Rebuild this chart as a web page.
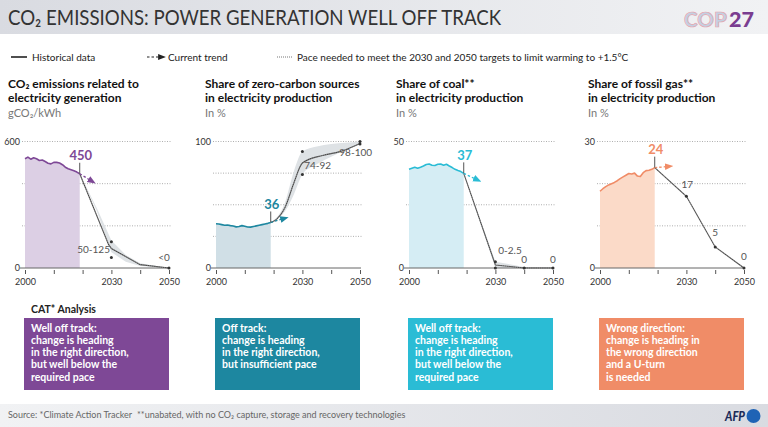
<!DOCTYPE html>
<html>
<head>
<meta charset="utf-8">
<script src="https://cdn.jsdelivr.net/npm/d3@7"></script>
<style>
  body { margin: 0; background: #fff; }
  text { font-family: Lato, "Noto Sans", sans-serif; }
</style>
</head>
<body>
<script>
const { select, scaleLinear, axisBottom, line, area, curveMonotoneX, curveLinear } = d3;

// historical years (2000-2019)
const histYears = [2000, 2001, 2002, 2003, 2004, 2005, 2006, 2007, 2008, 2009,
                   2010, 2011, 2012, 2013, 2014, 2015, 2016, 2017, 2018, 2019];

// historical series
const emissionsHist = [518, 526, 516, 523, 518, 510, 512, 505, 497, 494,
                       501, 501, 498, 490, 478, 471, 466, 461, 455, 447];
const zeroCarbonHist = [35.0, 34.8, 34.3, 33.8, 34.0, 33.5, 33.2, 32.5, 32.8, 33.5,
                        33.0, 32.4, 32.3, 32.8, 33.3, 33.8, 34.3, 34.8, 35.3, 36.0];
const coalHist = [39.0, 39.4, 39.8, 39.4, 39.8, 40.3, 40.9, 41.1, 40.6, 40.5,
                  41.0, 41.1, 40.6, 41.0, 40.3, 39.7, 39.0, 38.5, 38.1, 37.4];
const gasHist = [18.2, 18.8, 19.3, 19.7, 20.0, 20.3, 20.7, 21.2, 21.6, 22.0,
                 22.4, 22.3, 22.5, 21.8, 21.7, 22.6, 23.1, 23.2, 23.4, 23.8];

// 1.5C pathways [year, value]
const emissionsPath = [[2019, 447], [2029, 112], [2030, 92], [2040, 16], [2050, 0]];
const zeroCarbonPath = [[2019, 36], [2021, 38.5], [2024, 48], [2027, 67], [2030, 83], [2037, 89], [2043, 92], [2050, 98.5]];
const coalPath = [[2019, 37.4], [2030, 1.2], [2040, 0], [2050, 0]];
const gasPath = [[2019, 23.8], [2030, 17], [2040, 5], [2050, 0]];

// pathway ranges [year, low, high]
const emissionsBand = [[2019, 447, 447], [2025, 268, 282], [2030, 75, 130], [2035, 30, 62], [2040, 10, 22], [2050, 0, 0]];
const zeroCarbonBand = [[2019, 36, 36], [2024, 45, 52], [2027, 58, 76], [2030, 74, 92], [2035, 82, 96], [2040, 88, 98], [2045, 93, 99], [2050, 98, 100]];
const coalBand = [[2019, 37.4, 37.4], [2030, 0, 2.5], [2040, 0, 0.4], [2050, 0, 0]];
const gasBand = [];

// marked points [year, value]
const emissionsDots = [[2030, 125], [2030, 50], [2050, 0]];
const zeroCarbonDots = [[2030, 92], [2030, 74], [2050, 100], [2050, 98]];
const coalDots = [[2030, 2.5], [2030, 0], [2040, 0], [2050, 0]];
const gasDots = [[2030, 17], [2040, 5], [2050, 0]];

// current trend arrow end [year, value]
const emissionsTrend = [2023.3, 411];
const zeroCarbonTrend = [2023.8, 39.2];
const coalTrend = [2023.8, 34.8];
const gasTrend = [2024, 24.1];

// labels [year, value, text, anchor]
const emissionsLabels = [[2029.5, 72, "50-125", "end"], [2050.3, 33, "<0", "end"]];
const zeroCarbonLabels = [[2030.6, 78, "74-92", "start"], [2048.5, 88.5, "98-100", "middle"]];
const coalLabels = [[2031, 5.4, "0-2.5", "start"], [2040, 1.8, "0", "middle"], [2050, 1.8, "0", "middle"]];
const gasLabels = [[2030.3, 19, "17", "middle"], [2040, 7.7, "5", "middle"], [2050, 1.9, "0", "middle"]];

const endLabels = ["450", "36", "37", "24"];
const yMaxes = [600, 100, 50, 30];
const yGrids = [[200, 400, 600], [25, 50, 75, 100], [25, 50], [10, 20, 30]];

const titles = [
  ["CO₂ emissions related to", "electricity generation"],
  ["Share of zero-carbon sources", "in electricity production"],
  ["Share of coal**", "in electricity production"],
  ["Share of fossil gas**", "in electricity production"]
];
const units = ["gCO₂/kWh", "In %", "In %", "In %"];

const boxTexts = [
  ["Well off track:", "change is heading", "in the right direction,", "but well below the", "required pace"],
  ["Off track:", "change is heading", "in the right direction,", "but insufficient pace"],
  ["Well off track:", "change is heading", "in the right direction,", "but well below the", "required pace"],
  ["Wrong direction:", "change is heading in", "the wrong direction", "and a U-turn", "is needed"]
];

const colors = ["#7e4896", "#1d87a0", "#2abcd5", "#f08c67"];
const lightColors = ["#dccfe4", "#d0dfe6", "#d5edf4", "#fbdac8"];

const panels = [
  { hist: emissionsHist, path: emissionsPath, band: emissionsBand, dots: emissionsDots, trend: emissionsTrend, labels: emissionsLabels, curve: curveLinear },
  { hist: zeroCarbonHist, path: zeroCarbonPath, band: zeroCarbonBand, dots: zeroCarbonDots, trend: zeroCarbonTrend, labels: zeroCarbonLabels, curve: curveMonotoneX },
  { hist: coalHist, path: coalPath, band: coalBand, dots: coalDots, trend: coalTrend, labels: coalLabels, curve: curveLinear },
  { hist: gasHist, path: gasPath, band: gasBand, dots: gasDots, trend: gasTrend, labels: gasLabels, curve: curveLinear }
];

const width = 768, height = 427;
const svg = select("body").append("svg")
  .attr("width", width).attr("height", height)
  .attr("viewBox", [0, 0, width, height]);

const defs = svg.append("defs");
const hg = defs.append("linearGradient").attr("id", "hg");
hg.append("stop").attr("offset", "0").attr("stop-color", "#d9dbe1");
hg.append("stop").attr("offset", "1").attr("stop-color", "#f1f2f4");
const fg = defs.append("linearGradient").attr("id", "fg");
fg.append("stop").attr("offset", "0").attr("stop-color", "#f1f2f4");
fg.append("stop").attr("offset", "1").attr("stop-color", "#d9dbe1");

function arrowMarker(id, color) {
  defs.append("marker")
    .attr("id", id)
    .attr("viewBox", "0 0 10 10")
    .attr("refX", 5).attr("refY", 5)
    .attr("markerWidth", 6.5).attr("markerHeight", 6.5)
    .attr("orient", "auto")
    .append("path")
    .attr("d", "M0,1 L10,5 L0,9 Z")
    .attr("fill", color);
}

// header
svg.append("rect").attr("width", width).attr("height", 34).attr("fill", "url(#hg)");
svg.append("text")
  .attr("x", 8).attr("y", 25)
  .attr("font-size", 21).attr("fill", "#333")
  .attr("textLength", 493).attr("lengthAdjust", "spacingAndGlyphs")
  .text("CO₂ EMISSIONS: POWER GENERATION WELL OFF TRACK");

svg.append("text").attr("x", 684).attr("y", 27)
  .attr("font-size", 21).attr("font-weight", 900)
  .attr("fill", "#c3d0e2").attr("stroke", "#e8a4ac").attr("stroke-width", 0.7)
  .attr("textLength", 43).attr("lengthAdjust", "spacingAndGlyphs")
  .text("COP");
svg.append("text").attr("x", 729).attr("y", 27)
  .attr("font-size", 21).attr("font-weight", 900)
  .attr("fill", "#7a3d90")
  .attr("textLength", 25).attr("lengthAdjust", "spacingAndGlyphs")
  .text("27");

// legend
arrowMarker("arrow-legend", "#222");
const leg = svg.append("g").attr("font-size", 10).attr("fill", "#222");
leg.append("line").attr("x1", 11).attr("x2", 27).attr("y1", 57).attr("y2", 57)
  .attr("stroke", "#222").attr("stroke-width", 1.6);
leg.append("text").attr("x", 32).attr("y", 60.5).text("Historical data");
leg.append("line").attr("x1", 147).attr("x2", 162).attr("y1", 57).attr("y2", 57)
  .attr("stroke", "#222").attr("stroke-width", 1.2).attr("stroke-dasharray", "2.5,2")
  .attr("marker-end", "url(#arrow-legend)");
leg.append("text").attr("x", 168).attr("y", 60.5).text("Current trend");
leg.append("line").attr("x1", 277).attr("x2", 293).attr("y1", 57).attr("y2", 57)
  .attr("stroke", "#777").attr("stroke-width", 1).attr("stroke-dasharray", "1,1");
leg.append("text").attr("x", 297).attr("y", 60.5)
  .text("Pace needed to meet the 2030 and 2050 targets to limit warming to +1.5°C");

// panels
const panelX = [25, 216, 409, 600];
const titleX = [8, 205, 396, 588];
const plotW = 144;
const yTop = 141.5, yBot = 268;

panels.forEach((p, i) => {
  const x0 = panelX[i];
  const color = colors[i];
  const g = svg.append("g");

  // titles
  g.append("g").selectAll("text").data(titles[i]).join("text")
    .attr("x", titleX[i]).attr("y", (d, k) => 88 + k * 14)
    .attr("font-size", 12).attr("font-weight", 700).attr("fill", "#111")
    .text(d => d);
  g.append("text").attr("x", titleX[i]).attr("y", 117)
    .attr("font-size", 11).attr("fill", "#777")
    .text(units[i]);

  const x = scaleLinear().domain([2000, 2050]).range([x0, x0 + plotW]);
  const y = scaleLinear().domain([0, yMaxes[i]]).range([yBot, yTop]);

  // grid
  g.append("g").selectAll("line").data(yGrids[i]).join("line")
    .attr("x1", x0 - 3).attr("x2", x0 + plotW + 2)
    .attr("y1", d => y(d)).attr("y2", d => y(d))
    .attr("stroke", "#9a9a9a").attr("stroke-width", 0.8).attr("stroke-dasharray", "1,1.5");

  // y labels
  g.append("g").selectAll("text").data([0, yMaxes[i]]).join("text")
    .attr("x", x0 - 5).attr("y", d => y(d) + 3)
    .attr("text-anchor", "end").attr("font-size", 9).attr("fill", "#333")
    .text(d => d);

  // historical area
  const hist = histYears.map((yr, k) => [yr, p.hist[k]]);
  g.append("path").datum(hist)
    .attr("fill", lightColors[i])
    .attr("d", area().x(d => x(d[0])).y0(yBot).y1(d => y(d[1])));

  // band
  if (p.band.length) {
    g.append("path").datum(p.band)
      .attr("fill", "#dee2e5")
      .attr("d", area().curve(p.curve).x(d => x(d[0])).y0(d => y(d[1])).y1(d => y(d[2])));
  }

  // axis
  const axis = axisBottom(x)
    .tickValues([2000, 2010, 2020, 2030, 2040, 2050])
    .tickFormat(d => (d === 2000 || d === 2030 || d === 2050) ? d : "")
    .tickSize(4).tickPadding(5);
  const ag = g.append("g").attr("transform", `translate(0,${yBot + 2})`).call(axis);
  ag.select(".domain").remove();
  ag.selectAll("line").attr("stroke", "#555");
  ag.selectAll("text").attr("font-size", 9).attr("fill", "#333").attr("font-family", "Lato, sans-serif");
  g.append("line").attr("x1", x0 - 5).attr("x2", x0 + plotW + 1)
    .attr("y1", yBot).attr("y2", yBot).attr("stroke", "#666").attr("stroke-width", 1);

  // pathway (dotted)
  const pathLine = line().curve(p.curve).x(d => x(d[0])).y(d => y(d[1]));
  g.append("path").datum(p.path)
    .attr("fill", "none").attr("stroke", "#444").attr("stroke-width", 1.1)
    .attr("d", pathLine);
  g.append("path").datum(p.path)
    .attr("fill", "none").attr("stroke", "#fff").attr("stroke-width", 0.5)
    .attr("stroke-dasharray", "0.8,1.4").attr("opacity", 0.8)
    .attr("d", pathLine);

  // historical line
  g.append("path").datum(hist)
    .attr("fill", "none").attr("stroke", color).attr("stroke-width", 1.6)
    .attr("stroke-linejoin", "round")
    .attr("d", line().x(d => x(d[0])).y(d => y(d[1])));

  // dots
  g.append("g").selectAll("circle").data(p.dots).join("circle")
    .attr("cx", d => x(d[0])).attr("cy", d => y(d[1])).attr("r", 1.5)
    .attr("fill", "#333");

  // current trend arrow
  const last = hist[hist.length - 1];
  arrowMarker("arrow-" + i, color);
  g.append("line")
    .attr("x1", x(last[0])).attr("y1", y(last[1]))
    .attr("x2", x(p.trend[0])).attr("y2", y(p.trend[1]))
    .attr("stroke", color).attr("stroke-width", 1.3).attr("stroke-dasharray", "2.5,2")
    .attr("marker-end", `url(#arrow-${i})`);

  // end value label
  g.append("line")
    .attr("x1", x(last[0])).attr("x2", x(last[0]))
    .attr("y1", y(last[1]) - 11).attr("y2", y(last[1]))
    .attr("stroke", "#555").attr("stroke-width", 1);
  g.append("text")
    .attr("x", x(last[0]) + 1).attr("y", y(last[1]) - 13.5)
    .attr("text-anchor", "middle").attr("font-size", 13).attr("font-weight", 700)
    .attr("fill", color).text(endLabels[i]);

  // pathway labels
  g.append("g").selectAll("text").data(p.labels).join("text")
    .attr("x", d => x(d[0])).attr("y", d => y(d[1]))
    .attr("text-anchor", d => d[3]).attr("font-size", 10).attr("fill", "#555")
    .text(d => d[2]);

  // CAT box
  const bx = x0 - 1;
  g.append("rect").attr("x", bx).attr("y", 318).attr("width", plotW + 1).attr("height", 72)
    .attr("fill", color);
  g.append("text").attr("font-size", 10.5).attr("font-weight", 700).attr("fill", "#fff")
    .selectAll("tspan").data(boxTexts[i]).join("tspan")
    .attr("x", bx + 7).attr("y", (d, k) => 331.5 + k * 12.3)
    .text(d => d);
});

svg.append("text").attr("x", 31).attr("y", 313)
  .attr("font-size", 10.5).attr("font-weight", 700).attr("fill", "#222")
  .text("CAT* Analysis");

// footer
svg.append("rect").attr("y", 404).attr("width", width).attr("height", 23).attr("fill", "url(#fg)");
svg.append("text").attr("x", 8).attr("y", 418).attr("font-size", 9).attr("fill", "#666")
  .text("Source: *Climate Action Tracker");
svg.append("text").attr("x", 137).attr("y", 418).attr("font-size", 9).attr("fill", "#666")
  .text("**unabated, with no CO₂ capture, storage and recovery technologies");

svg.append("text").attr("x", 725).attr("y", 421)
  .attr("font-size", 14).attr("font-weight", 900).attr("font-style", "italic")
  .attr("fill", "#1b2b58")
  .attr("textLength", 20).attr("lengthAdjust", "spacingAndGlyphs")
  .text("AFP");
svg.append("circle").attr("cx", 753.5).attr("cy", 416).attr("r", 7).attr("fill", "#1f63b5");
</script>
</body>
</html>
